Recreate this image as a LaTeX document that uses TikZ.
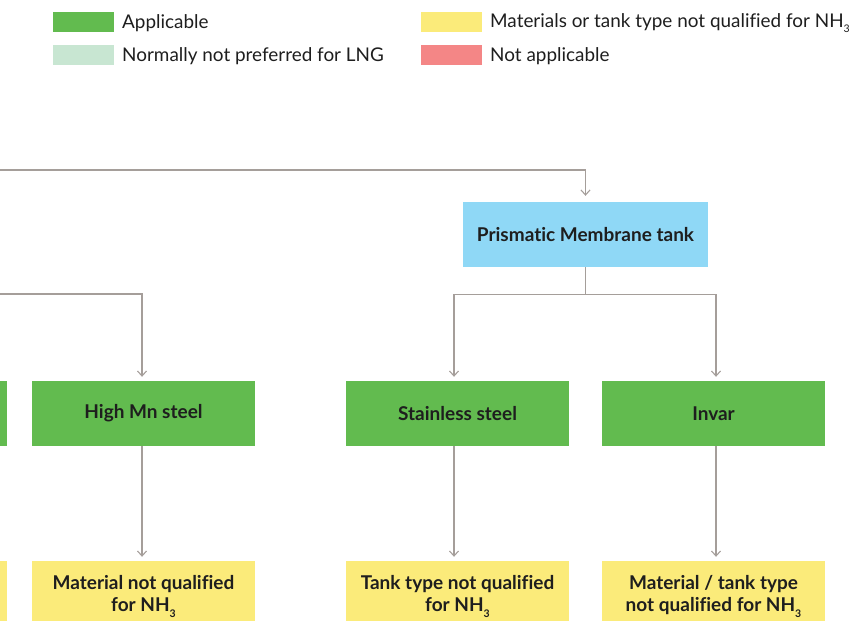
\documentclass[tikz,border=0pt]{standalone}
\usepackage{fontspec}
\setmainfont{Lato}[Ligatures={NoCommon,NoRare}]
\usetikzlibrary{arrows.meta}
\definecolor{cgreen}{HTML}{62BB4F}
\definecolor{clgreen}{HTML}{C8E6D2}
\definecolor{cyellow}{HTML}{FBEB7A}
\definecolor{cpink}{HTML}{F48686}
\definecolor{cblue}{HTML}{8FD8F6}
\definecolor{cline}{HTML}{A59E9A}
\definecolor{ctext}{HTML}{1E1E1E}
\newcommand{\nhthree}{NH\raisebox{-0.6ex}{\fontsize{10.5}{10.5}\selectfont 3}}
\tikzset{
  box/.style={draw=none, minimum width=223pt, minimum height=65pt, inner sep=0pt, align=center, text=ctext, font=\fontsize{19}{22}\selectfont\bfseries},
  swatch/.style={draw=none, minimum width=61pt, minimum height=20pt, inner sep=0pt},
  legtext/.style={anchor=west, inner sep=0pt, text=ctext, font=\fontsize{18.9}{22}\selectfont},
  conn/.style={draw=cline, line width=1.4pt, -{Straight Barb[length=5pt,width=9pt,line width=1.1pt]}},
  plain/.style={draw=cline, line width=1.4pt}
}
\begin{document}
\begin{tikzpicture}[x=1pt,y=-1pt]
\useasboundingbox (0,0) rectangle (854,621);
\clip (0,0) rectangle (854,621);
% legend
\node[swatch, fill=cgreen] (s1) at (83.5,22) {};
\node[legtext] (l1) at (122,23) {Applicable};
\node[swatch, fill=clgreen] (s2) at (83.5,55) {};
\node[legtext] (l2) at (122,56.5) {Normally not preferred for LNG};
\node[swatch, fill=cyellow] (s3) at (451.5,22) {};
\node[legtext] (l3) at (490,23) {Materials or tank type not qualified for \nhthree};
\node[swatch, fill=cpink] (s4) at (451.5,55) {};
\node[legtext] (l4) at (490,56.5) {Not applicable};
% boxes
\node[box, fill=cblue, minimum width=245pt] (pm) at (585.5,234.5) {Prismatic Membrane tank};
\node[box, fill=cgreen] (lg) at (-104.5,413.5) {};
\node[box, fill=cgreen] (mn) at (143.5,413.5) {High Mn steel};
\node[box, fill=cgreen] (ss) at (457.5,413.5) {Stainless steel};
\node[box, fill=cgreen] (inv) at (713.5,413.5) {Invar};
\node[box, fill=cyellow, minimum height=71pt] (ly) at (-104.5,596.5) {};
\node[box, fill=cyellow, minimum height=71pt] (mnq) at (143.5,596.5) {Material not qualified\\for \nhthree};
\node[box, fill=cyellow, minimum height=71pt] (ssq) at (457.5,596.5) {Tank type not qualified\\for \nhthree};
\node[box, fill=cyellow, minimum height=71pt] (invq) at (713.5,596.5) {Material / tank type\\not qualified for \nhthree};
% connectors
\coordinate (topin) at (0,170);
\coordinate (leftin) at (0,294);
\draw[conn, shorten >=6pt] (topin) -| (pm.north);
\draw[conn, shorten >=4pt] (leftin) -| ([xshift=-1.5pt]mn.north);
\draw[plain] (pm.south) -- ++(0,27) coordinate (pmj);
\draw[conn, shorten >=4pt] (pmj) -| ([xshift=-3.5pt]ss.north);
\draw[conn, shorten >=4pt] (pmj) -| ([xshift=2.5pt]inv.north);
\draw[conn, shorten >=4pt] ([xshift=-1.5pt]mn.south) -- ([xshift=-1.5pt]mnq.north);
\draw[conn, shorten >=4pt] ([xshift=-3.5pt]ss.south) -- ([xshift=-3.5pt]ssq.north);
\draw[conn, shorten >=4pt] ([xshift=2.5pt]inv.south) -- ([xshift=2.5pt]invq.north);
\end{tikzpicture}
\end{document}
